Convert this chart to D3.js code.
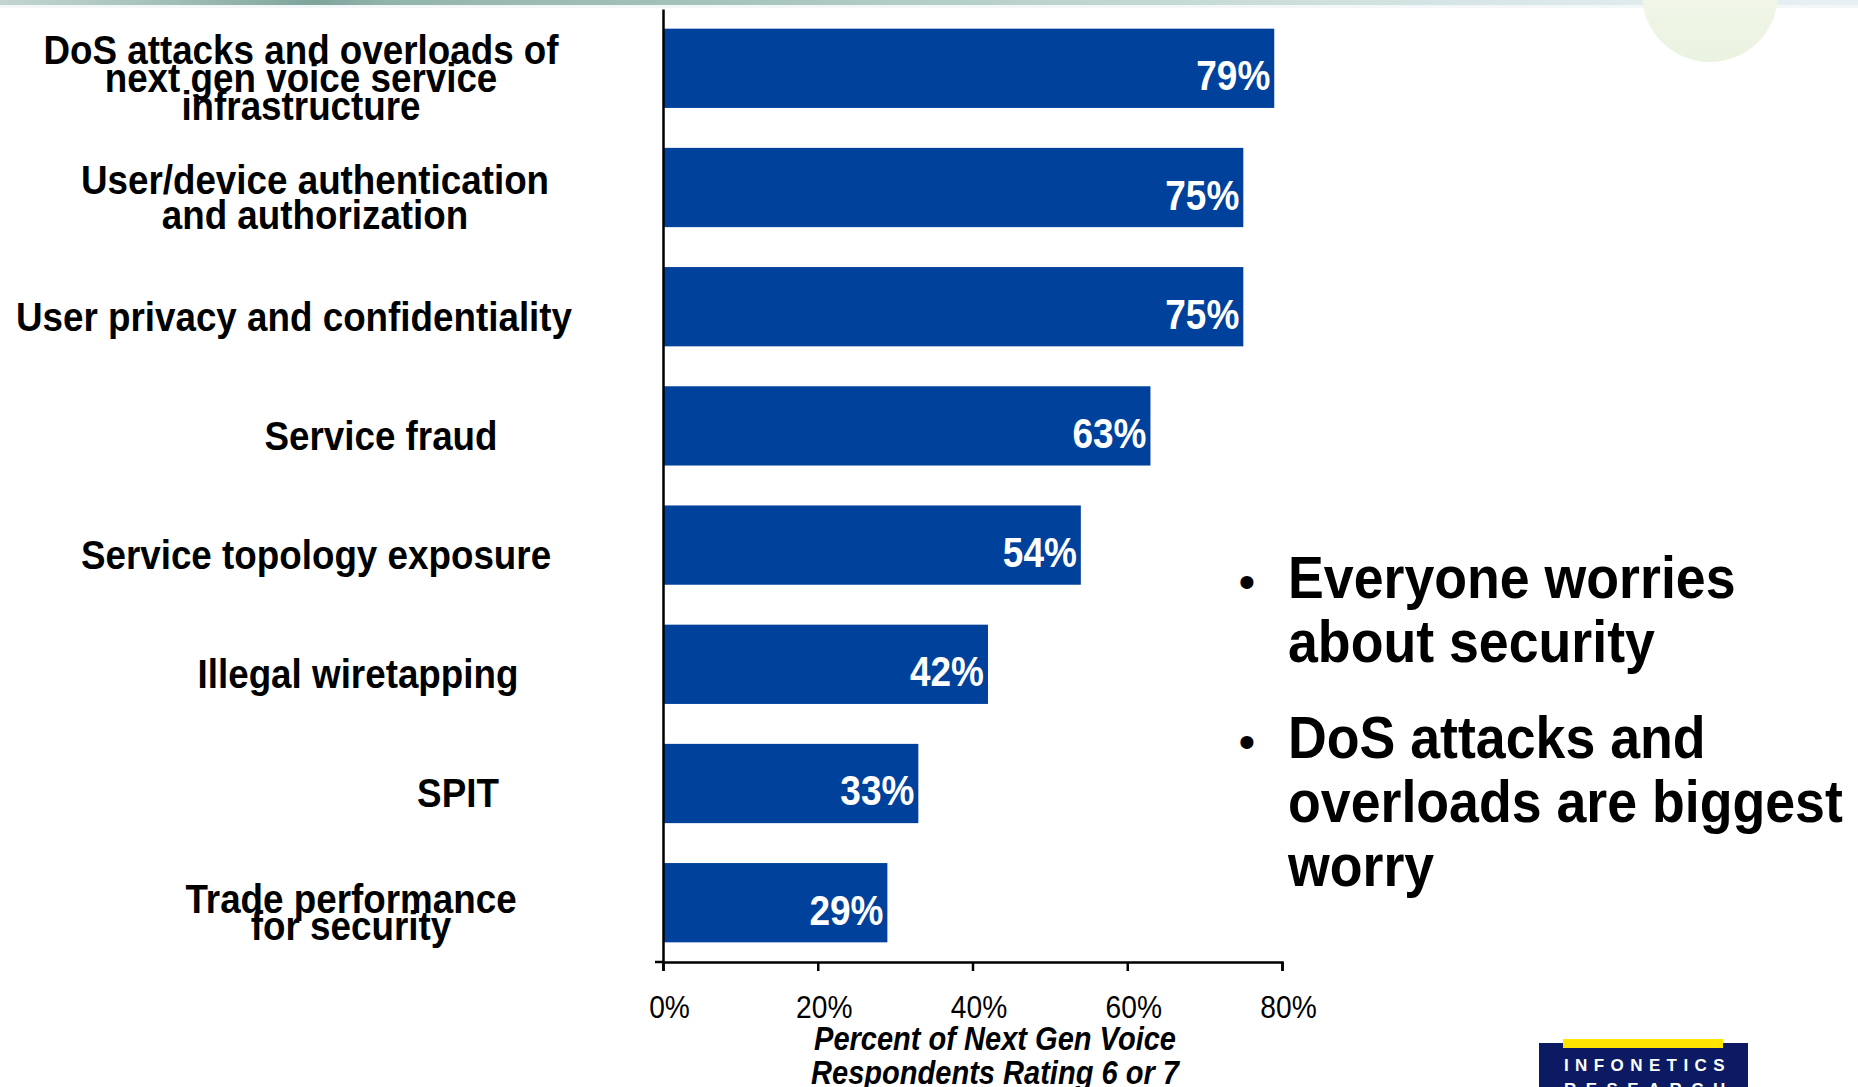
<!DOCTYPE html>
<html>
<head>
<meta charset="utf-8">
<script src="https://cdn.jsdelivr.net/npm/d3@7/dist/d3.min.js"></script>
<style>
  html, body { margin: 0; padding: 0; background: #ffffff; }
  svg { display: block; }
  text { font-family: "Liberation Sans", Arial, Helvetica, sans-serif; }
</style>
</head>
<body>
<svg id="chart" width="1858" height="1087"></svg>
<script>
// ---------------- data ----------------
const categories = [
  "DoS attacks and overloads of\nnext gen voice service\ninfrastructure",
  "User/device authentication\nand authorization",
  "User privacy and confidentiality",
  "Service fraud",
  "Service topology exposure",
  "Illegal wiretapping",
  "SPIT",
  "Trade performance\nfor security"
];
const values = [0.79, 0.75, 0.75, 0.63, 0.54, 0.42, 0.33, 0.29];
const xTicks = [0, 0.2, 0.4, 0.6, 0.8];
const axisTitleLines = ["Percent of Next Gen Voice", "Respondents Rating 6 or 7"];
const bulletPoints = [
  ["Everyone worries", "about security"],
  ["DoS attacks and", "overloads are biggest", "worry"]
];
const logoLines = ["INFONETICS", "RESEARCH"];

// ---------------- layout (positions / styles) ----------------
const labelCenterX = [301, 315, 294, 381, 316, 358, 458, 351];
const labelLeading = [28, 35, 0, 0, 0, 0, 0, 27];
const barColor = "#00419b";

const svg = d3.select("#chart");

// decorative top band
const defs = svg.append("defs");
const band = defs.append("linearGradient").attr("id", "topband").attr("x1", 0).attr("x2", 1);
[[0, "#c3d5d1"], [0.08, "#a7c2bc"], [0.17, "#7ea49c"], [0.21, "#93b4ad"], [0.35, "#a2c0ba"],
 [0.5, "#b4cdc8"], [0.7, "#cddfdc"], [0.85, "#dde9ec"], [1, "#e8f0f4"]]
  .forEach(([o, c]) => band.append("stop").attr("offset", o).attr("stop-color", c));
svg.append("rect").attr("x", 0).attr("y", 0).attr("width", 1858).attr("height", 5).attr("fill", "url(#topband)");
svg.append("rect").attr("x", 0).attr("y", 5).attr("width", 1858).attr("height", 3).attr("fill", "#eef4f4").attr("opacity", 0.7);

const circ = defs.append("linearGradient").attr("id", "circ").attr("x1", 0).attr("x2", 0).attr("y1", 0).attr("y2", 1);
circ.append("stop").attr("offset", 0).attr("stop-color", "#f9fbf0");
circ.append("stop").attr("offset", 1).attr("stop-color", "#eaf2e0");
svg.append("circle").attr("cx", 1710).attr("cy", -6).attr("r", 68).attr("fill", "url(#circ)");

// scales
const x = d3.scaleLinear().domain([0, 0.8]).range([663, 1282]);
const y = d3.scaleBand().domain(categories).range([9, 962]).paddingInner(0.335).paddingOuter(0.165);

// bars
svg.append("g").selectAll("rect")
  .data(values)
  .join("rect")
  .attr("x", x(0))
  .attr("y", (d, i) => y(categories[i]))
  .attr("width", d => x(d) - x(0))
  .attr("height", y.bandwidth())
  .attr("fill", barColor);

// value labels
svg.append("g").selectAll("text")
  .data(values)
  .join("text")
  .attr("transform", (d, i) => `translate(${x(d) - 4},${y(categories[i]) + y.bandwidth() / 2 + 22}) scale(0.86,1)`)
  .attr("text-anchor", "end")
  .attr("font-size", 43)
  .attr("font-weight", "bold")
  .attr("fill", "#ffffff")
  .text(d => Math.round(d * 100) + "%");

// category labels
categories.forEach((c, i) => {
  const lines = c.split("\n");
  const gap = labelLeading[i];
  const cy = y(c) + y.bandwidth() / 2 + 24;
  const firstBaseline = cy - gap * (lines.length - 1) / 2;
  const t = svg.append("text")
    .attr("transform", `translate(${labelCenterX[i]},${firstBaseline}) scale(0.92,1)`)
    .attr("text-anchor", "middle")
    .attr("font-size", 40)
    .attr("font-weight", "bold")
    .attr("fill", "#000");
  lines.forEach((ln, k) => {
    t.append("tspan").attr("x", 0).attr("y", k * gap).text(ln);
  });
});

// x axis
const xAxis = svg.append("g")
  .attr("transform", "translate(0,962)")
  .call(d3.axisBottom(x).tickValues(xTicks).tickSize(9).tickSizeOuter(9).tickFormat(d3.format(".0%")));
xAxis.select(".domain").attr("stroke", "#000").attr("stroke-width", 2.5);
xAxis.selectAll(".tick line").attr("stroke", "#000").attr("stroke-width", 2.5);
xAxis.selectAll(".tick text")
  .attr("x", null).attr("y", null).attr("dy", null)
  .attr("transform", `translate(6,56) scale(0.88,1)`)
  .attr("font-size", 32)
  .attr("font-family", "'Liberation Sans', Arial, sans-serif")
  .attr("fill", "#000");
svg.append("line").attr("x1", 655).attr("x2", 664).attr("y1", 962).attr("y2", 962)
  .attr("stroke", "#000").attr("stroke-width", 2.5);

// y axis line
const yAxis = svg.append("g")
  .attr("transform", `translate(${x(0)},0)`)
  .call(d3.axisLeft(y).tickValues([]).tickSizeOuter(0));
yAxis.select(".domain").attr("stroke", "#000").attr("stroke-width", 2.5);

// axis title
const at = svg.append("text")
  .attr("transform", `translate(995,1050) scale(0.88,1)`)
  .attr("text-anchor", "middle")
  .attr("font-size", 33)
  .attr("font-weight", "bold")
  .attr("font-style", "italic")
  .attr("fill", "#000");
axisTitleLines.forEach((ln, k) => at.append("tspan").attr("x", 0).attr("y", k * 34).text(ln));

// bullet text
const bulletTop = [598, 758];
bulletPoints.forEach((lines, b) => {
  svg.append("text")
    .attr("x", 1247).attr("y", bulletTop[b])
    .attr("text-anchor", "middle")
    .attr("font-size", 48)
    .attr("fill", "#000")
    .text("•");
  const t = svg.append("text")
    .attr("transform", `translate(1288,${bulletTop[b]}) scale(0.91,1)`)
    .attr("font-size", 59)
    .attr("font-weight", "bold")
    .attr("fill", "#000");
  lines.forEach((ln, k) => t.append("tspan").attr("x", 0).attr("y", k * 64).text(ln));
});

// logo
svg.append("rect").attr("x", 1539).attr("y", 1043).attr("width", 209).attr("height", 60).attr("fill", "#0b1a62");
svg.append("rect").attr("x", 1563).attr("y", 1039).attr("width", 160).attr("height", 9).attr("fill", "#ffe500");
svg.append("text").attr("x", 1564).attr("y", 1071)
  .attr("font-size", 17).attr("font-weight", "bold").attr("fill", "#ffffff")
  .attr("letter-spacing", 6.4).text(logoLines[0]);
svg.append("text").attr("x", 1564).attr("y", 1095)
  .attr("font-size", 17).attr("font-weight", "bold").attr("fill", "#ffffff")
  .attr("letter-spacing", 9.4).text(logoLines[1]);
</script>
</body>
</html>
